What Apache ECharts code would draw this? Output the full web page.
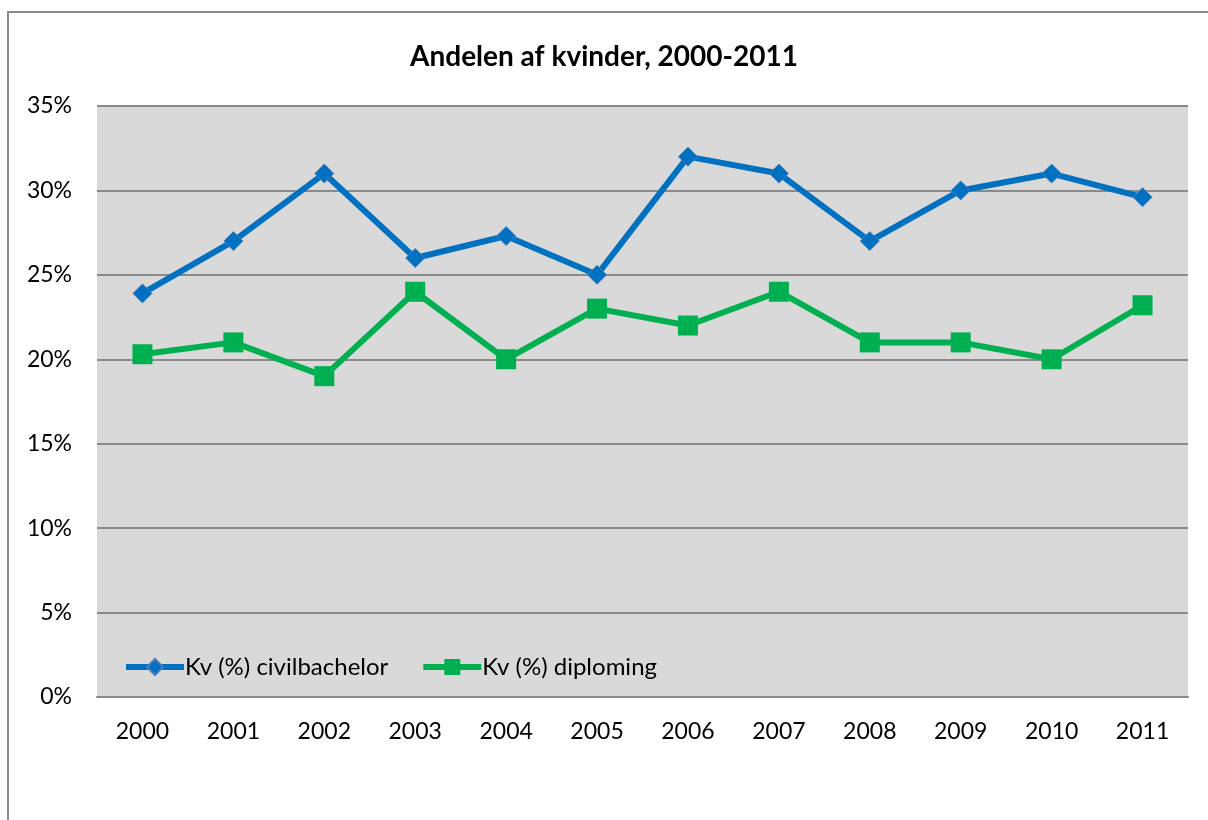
<!DOCTYPE html>
<html>
<head>
<meta charset="utf-8">
<script src="https://cdn.jsdelivr.net/npm/echarts@6/dist/echarts.min.js"></script>
<style>
  html, body { margin: 0; padding: 0; background: #fff; }
  #chart { width: 1208px; height: 820px; }
</style>
</head>
<body>
<div id="chart"></div>
<script>
// data
var years = ["2000", "2001", "2002", "2003", "2004", "2005", "2006", "2007", "2008", "2009", "2010", "2011"];
var civilbachelor = [23.9, 27, 31, 26, 27.3, 25, 32, 31, 27, 30, 31, 29.6];
var diplomingen = [20.3, 21, 19, 24, 20, 23, 22, 24, 21, 21, 20, 23.2];

var font = "Lato, 'Open Sans', sans-serif";

var chart = echarts.init(document.getElementById("chart"));
var option = {
    animation: false,
    title: {
        text: "Andelen af kvinder, 2000-2011",
        left: "center",
        top: 38,
        textStyle: { fontFamily: font, fontSize: 28, fontWeight: "bold", color: "#000" }
    },
    graphic: [
        {
            type: "rect",
            shape: { x: 8, y: 12, width: 1240, height: 900 },
            style: { fill: "none", stroke: "#8a8a8a", lineWidth: 2 },
            silent: true
        }
    ],
    grid: {
        left: 97,
        top: 106,
        width: 1091,
        height: 591,
        show: true,
        backgroundColor: "#d9d9d9",
        borderWidth: 0
    },
    legend: {
        left: 118,
        top: 650,
        itemWidth: 58,
        itemHeight: 20,
        itemGap: 32,
        lineStyle: { width: 6 },
        textStyle: { fontFamily: font, fontSize: 24, color: "#000", padding: [0, 0, 0, -4] },
        data: ["Kv (%) civilbachelor", "Kv (%) diploming"]
    },
    xAxis: {
        type: "category",
        data: years,
        boundaryGap: true,
        axisLine: { show: true, lineStyle: { color: "#8a8a8a", width: 2 } },
        axisTick: { show: false },
        axisLabel: { fontFamily: font, fontSize: 23, color: "#000", margin: 23 }
    },
    yAxis: {
        type: "value",
        min: 0,
        max: 35,
        interval: 5,
        axisLine: { show: false },
        axisTick: { show: false },
        axisLabel: {
            fontFamily: font, fontSize: 23, color: "#000", margin: 25,
            formatter: function (v) { return v + "%"; }
        },
        splitLine: { lineStyle: { color: "#8a8a8a", width: 2 } }
    },
    series: [
        {
            name: "Kv (%) civilbachelor",
            type: "line",
            data: civilbachelor,
            symbol: "diamond",
            symbolSize: 19,
            color: "#0070c0",
            lineStyle: { width: 6, color: "#0070c0" },
            itemStyle: { color: "#0070c0", borderColor: "#4a7ebb", borderWidth: 1 }
        },
        {
            name: "Kv (%) diploming",
            type: "line",
            data: diplomingen,
            symbol: "rect",
            symbolSize: 20,
            color: "#00b050",
            lineStyle: { width: 6, color: "#00b050" },
            itemStyle: { color: "#00b050" }
        }
    ]
};
chart.setOption(option);
window.addEventListener("resize", chart.resize);
</script>
</body>
</html>
